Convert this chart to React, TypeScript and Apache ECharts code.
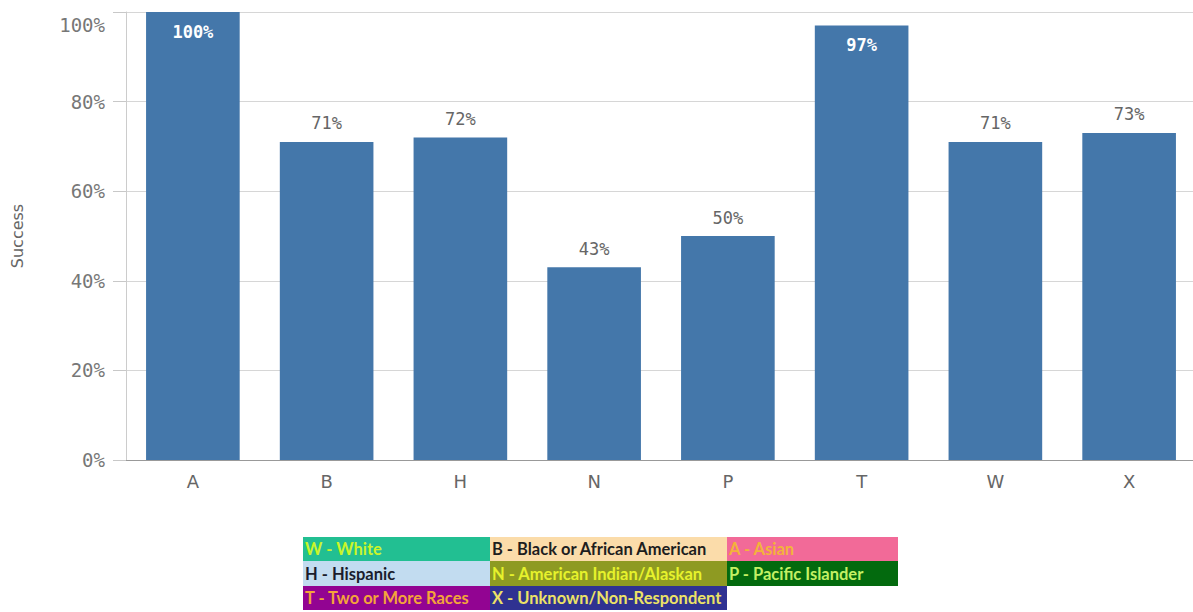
import React, { useEffect, useRef } from "react";
import * as echarts from "echarts";

const categories = ["A", "B", "H", "N", "P", "T", "W", "X"];
const successValues = [100, 71, 72, 43, 50, 97, 71, 73];
const yTicks = [0, 20, 40, 60, 80, 100];

const legendRows = [
  ["W - White", "B - Black or African American", "A - Asian"],
  ["H - Hispanic", "N - American Indian/Alaskan", "P - Pacific Islander"],
  ["T - Two or More Races", "X - Unknown/Non-Respondent", ""],
];
const legendFills = [
  ["#22bf92", "#fbdcaa", "#f26a98"],
  ["#c2dcf0", "#8e9a22", "#036a0e"],
  ["#920492", "#2f3291", "#ffffff"],
];
const legendTextColors = [
  ["#c9f52a", "#1e1e1e", "#f3b33a"],
  ["#1a1c2c", "#e6f22c", "#c4f064"],
  ["#f4a43a", "#ece266", "#ffffff"],
];

export default function App() {
  const ref = useRef<HTMLDivElement>(null);
  useEffect(() => {
    if (!ref.current) return;
    const chart = echarts.init(ref.current, null, { renderer: "svg" });

    const colX = [303, 490, 727, 898];
    const rowY = [537, 561, 586, 610];
    const legendEls: any[] = [];
    legendRows.forEach((row, r) => {
      row.forEach((label, c) => {
        legendEls.push({
          type: "rect",
          shape: { x: colX[c], y: rowY[r], width: colX[c + 1] - colX[c], height: rowY[r + 1] - rowY[r] },
          style: { fill: legendFills[r][c] },
        });
        if (label) {
          legendEls.push({
            type: "text",
            x: colX[c] + 2,
            y: (rowY[r] + rowY[r + 1]) / 2,
            style: {
              text: label,
              fill: legendTextColors[r][c],
              font: "bold 16.5px Lato, 'Open Sans', sans-serif",
              verticalAlign: "middle",
              align: "left",
            },
          });
        }
      });
    });

    const topTick = yTicks[yTicks.length - 1];

    chart.setOption({
      animation: false,
      grid: { left: 126, top: 12, width: 1070, bottom: 152, containLabel: false, outerBoundsMode: "none" },
      xAxis: {
        type: "category",
        data: categories,
        axisLine: { show: true, lineStyle: { color: "#999", width: 1 } },
        axisTick: { show: false },
        axisLabel: { color: "#666", fontSize: 18, margin: 12, fontFamily: "'DejaVu Sans', sans-serif" },
      },
      yAxis: {
        type: "value",
        min: 0,
        max: topTick,
        interval: 20,
        name: "Success",
        nameLocation: "middle",
        nameGap: 101,
        nameTextStyle: { color: "#666", fontSize: 16, fontFamily: "'DejaVu Sans', sans-serif" },
        axisLine: { show: true, lineStyle: { color: "#ccc" } },
        axisTick: { show: true, length: 13, lineStyle: { color: "#c8c8c8" } },
        splitLine: { show: true, lineStyle: { color: "#d6d6d6" } },
        axisLabel: {
          color: "#777",
          fontSize: 19,
          lineHeight: 26,
          margin: 21,
          fontFamily: "'DejaVu Sans Mono', monospace",
          formatter: (v: number) => (v === topTick ? "\n" + v + "%" : v + "%"),
        },
      },
      series: [
        {
          type: "bar",
          data: successValues.map((v) => ({
            value: v,
            label:
              v >= 90
                ? { show: true, position: "insideTop", distance: 11, color: "#fff", fontWeight: "bold" }
                : { show: true, position: "top", distance: 10, color: "#666" },
          })),
          barCategoryGap: "30%",
          itemStyle: { color: "#4477aa" },
          label: {
            show: true,
            fontSize: 17,
            fontFamily: "'DejaVu Sans Mono', monospace",
            formatter: (p: any) => p.value + "%",
          },
        },
      ],
      graphic: legendEls,
    });
    return () => chart.dispose();
  }, []);
  return (
    <div
      ref={ref}
      style={{ position: "fixed", left: 0, top: 0, width: 1193, height: 612, background: "#fff" }}
    />
  );
}
